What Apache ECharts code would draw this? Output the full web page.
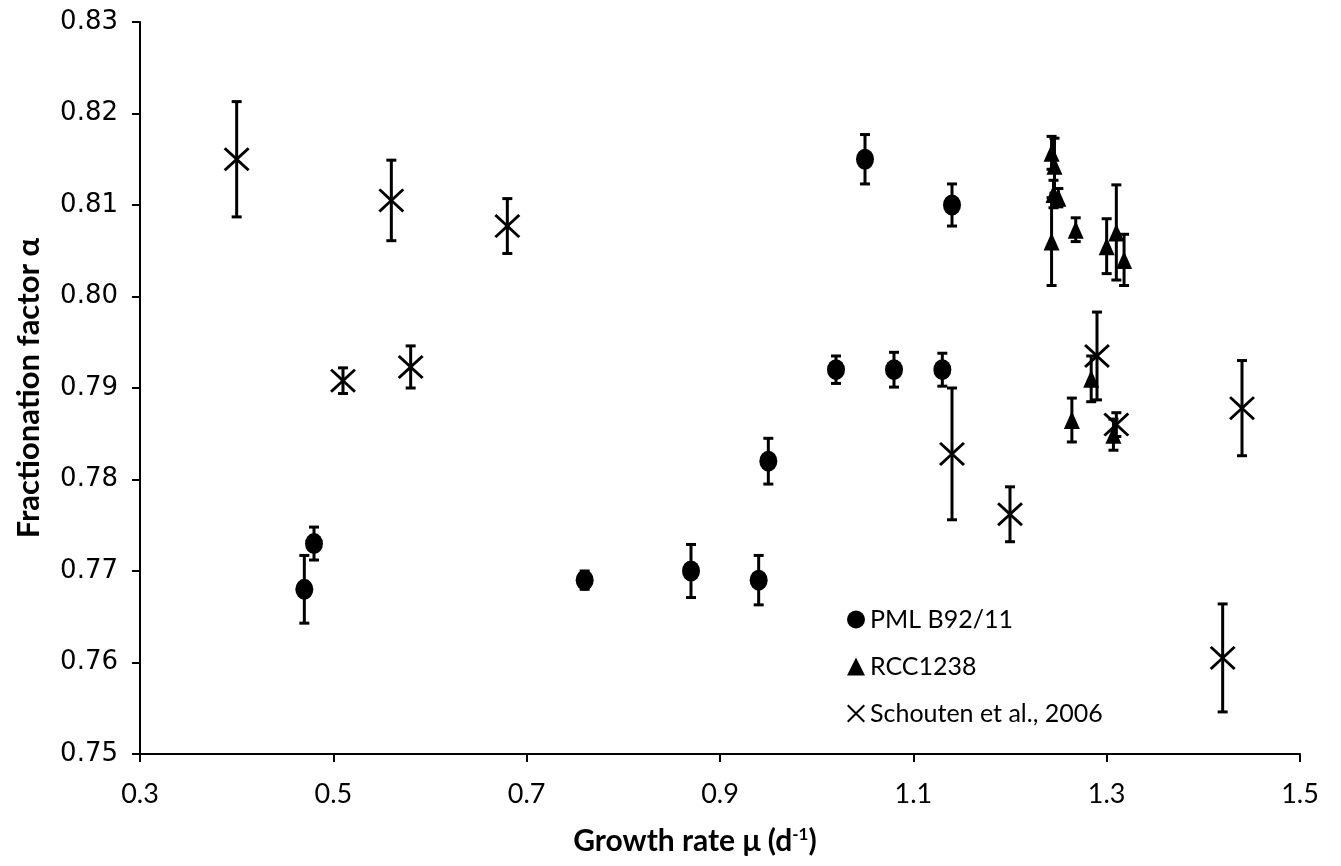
<!DOCTYPE html>
<html>
<head>
<meta charset="utf-8">
<script src="https://cdn.jsdelivr.net/npm/echarts@6/dist/echarts.min.js"></script>
<style>
  html, body { margin: 0; padding: 0; background: #fff; }
  #main { width: 1341px; height: 866px; }
</style>
</head>
<body>
<div id="main"></div>
<script>
// 数据 PML B92/11
var pmlX   = [0.47, 0.48, 0.76, 0.87, 0.94, 0.95, 1.02, 1.05, 1.08, 1.13, 1.14];
var pmlY   = [0.768, 0.773, 0.769, 0.770, 0.769, 0.782, 0.792, 0.815, 0.792, 0.792, 0.810];
var pmlErr = [0.0037, 0.0018, 0.001, 0.0029, 0.0027, 0.0025, 0.0015, 0.0027, 0.0019, 0.0018, 0.0023];

// RCC1238
var rccX   = [1.243, 1.246, 1.245, 1.25, 1.243, 1.268, 1.30, 1.31, 1.318, 1.264, 1.284, 1.307];
var rccY   = [0.8157, 0.8143, 0.8112, 0.8108, 0.806, 0.8073, 0.8055, 0.807, 0.804, 0.7865, 0.791, 0.7849];
var rccErr = [0.0018, 0.003, 0.0015, 0.001, 0.0048, 0.0013, 0.003, 0.0052, 0.0028, 0.0024, 0.0025, 0.0017];

// Schouten et al., 2006
var schX   = [0.40, 0.51, 0.56, 0.58, 0.68, 1.14, 1.20, 1.29, 1.31, 1.42, 1.44];
var schY   = [0.815, 0.7908, 0.8105, 0.7923, 0.8077, 0.7828, 0.7762, 0.7935, 0.786, 0.7605, 0.7878];
var schErr = [0.0063, 0.0014, 0.0044, 0.0023, 0.003, 0.0072, 0.003, 0.0048, 0.0013, 0.0059, 0.0052];

var seriesNames = ['PML B92/11', 'RCC1238', 'Schouten et al., 2006'];

var crossPath = 'path://M1.6,0 L10,8.4 L18.4,0 L20,1.6 L11.6,10 L20,18.4 L18.4,20 L10,11.6 L1.6,20 L0,18.4 L8.4,10 L0,1.6 Z';
var fontFam = 'Lato, "Liberation Sans", sans-serif';
var yFontFam = '"DejaVu Sans", Verdana, sans-serif';

function points(xs, ys) {
    var r = [];
    for (var i = 0; i < xs.length; i++) r.push([xs[i], ys[i]]);
    return r;
}
function bars(xs, ys, es) {
    var r = [];
    for (var i = 0; i < xs.length; i++) r.push([xs[i], ys[i] - es[i], ys[i] + es[i]]);
    return r;
}

// 误差棒
function renderErr(params, api) {
    var lo = api.coord([api.value(0), api.value(1)]);
    var hi = api.coord([api.value(0), api.value(2)]);
    var w = 5;
    var st = { stroke: '#000', lineWidth: 3 };
    return {
        type: 'group',
        children: [
            { type: 'line', shape: { x1: hi[0], y1: hi[1], x2: lo[0], y2: lo[1] }, style: st },
            { type: 'line', shape: { x1: hi[0] - w, y1: hi[1], x2: hi[0] + w, y2: hi[1] }, style: st },
            { type: 'line', shape: { x1: lo[0] - w, y1: lo[1], x2: lo[0] + w, y2: lo[1] }, style: st }
        ]
    };
}

function errSeries(data) {
    return {
        type: 'custom',
        renderItem: renderErr,
        data: data,
        encode: { x: 0, y: [1, 2] },
        z: 1,
        silent: true
    };
}

var chart = echarts.init(document.getElementById('main'));

var option = {
    animation: false,
    backgroundColor: '#fff',
    grid: { left: 140, right: 41, top: 22, bottom: 112 },
    legend: {
        orient: 'vertical',
        left: 842,
        top: 602,
        itemGap: 22,
        itemWidth: 18,
        itemHeight: 18,
        textStyle: { fontFamily: fontFam, fontSize: 25, color: '#000' },
        data: [
            { name: seriesNames[0], icon: 'circle', itemStyle: { color: '#000' } },
            { name: seriesNames[1], icon: 'triangle', itemStyle: { color: '#000' } },
            { name: seriesNames[2], icon: crossPath, itemStyle: { color: '#000' } }
        ]
    },
    xAxis: {
        type: 'value',
        min: 0.3,
        max: 1.5,
        interval: 0.2,
        name: '{t|Growth rate μ (d}{s|-1}{t|)}',
        nameLocation: 'middle',
        nameGap: 72,
        nameTextStyle: {
            padding: [0, 50, 0, 0],
            rich: {
                t: { fontFamily: fontFam, fontSize: 30, fontWeight: 'bold', color: '#000' },
                s: { fontFamily: fontFam, fontSize: 17, fontWeight: 'bold', color: '#000', verticalAlign: 'top', padding: [0, 0, 14, 0] }
            }
        },
        axisLine: { lineStyle: { color: '#000', width: 2 } },
        axisTick: { length: 8, lineStyle: { color: '#000', width: 2 } },
        axisLabel: {
            margin: 27,
            fontFamily: fontFam, fontSize: 27, color: '#000',
            formatter: function (v) { return v.toFixed(1); }
        },
        splitLine: { show: false }
    },
    yAxis: {
        type: 'value',
        min: 0.75,
        max: 0.83,
        interval: 0.01,
        name: 'Fractionation factor α',
        nameLocation: 'middle',
        nameGap: 96,
        nameTextStyle: { fontFamily: fontFam, fontSize: 31, fontWeight: 'bold', color: '#000' },
        axisLine: { show: true, lineStyle: { color: '#000', width: 2 } },
        axisTick: { show: true, length: 8, lineStyle: { color: '#000', width: 2 } },
        axisLabel: {
            margin: 22,
            fontFamily: yFontFam, fontSize: 26, color: '#000',
            formatter: function (v) { return v.toFixed(2); }
        },
        splitLine: { show: false }
    },
    series: [
        errSeries(bars(pmlX, pmlY, pmlErr)),
        errSeries(bars(rccX, rccY, rccErr)),
        errSeries(bars(schX, schY, schErr)),
        {
            name: seriesNames[0],
            type: 'scatter',
            symbol: 'circle',
            symbolSize: [18, 21],
            itemStyle: { color: '#000', opacity: 1 },
            data: points(pmlX, pmlY),
            z: 3
        },
        {
            name: seriesNames[1],
            type: 'scatter',
            symbol: 'triangle',
            symbolSize: [16, 18],
            itemStyle: { color: '#000', opacity: 1 },
            data: points(rccX, rccY),
            z: 3
        },
        {
            name: seriesNames[2],
            type: 'scatter',
            symbol: crossPath,
            symbolSize: [26, 24],
            itemStyle: { color: '#000', opacity: 1 },
            data: points(schX, schY),
            z: 3
        }
    ]
};

chart.setOption(option);
</script>
</body>
</html>
